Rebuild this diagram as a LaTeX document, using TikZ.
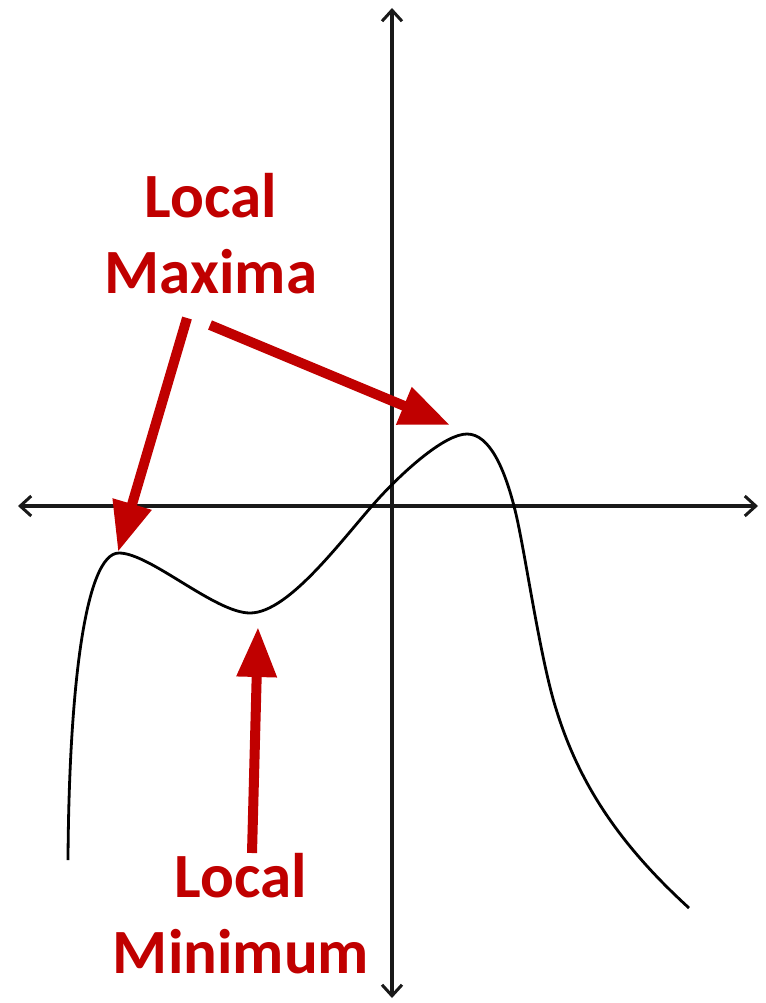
\documentclass[tikz,border=0pt]{standalone}
\usepackage{fontspec}
\setmainfont{Carlito}
\usetikzlibrary{arrows.meta}
\definecolor{lred}{HTML}{C00000}
\begin{document}
\begin{tikzpicture}[x=1pt,y=-1pt,
  axis/.style={line width=3.2pt,black!90,{Straight Barb[length=11pt,width=20pt,line width=3pt]}-{Straight Barb[length=11pt,width=20pt,line width=3pt]}},
  curve/.style={line width=2.8pt,black},
  pointer/.style={line width=10pt,lred,-{Triangle[width=38pt,length=50pt]}},
  lbl/.style={text=lred,font=\fontsize{63}{76}\selectfont\bfseries,inner sep=0pt,anchor=base}]
\useasboundingbox (0,0) rectangle (765,1003);
% axes
\coordinate (xl) at (18,506);
\coordinate (xr) at (758,506);
\coordinate (yt) at (392,8);
\coordinate (yb) at (392,998);
\draw[axis] (xl) -- (xr);
\draw[axis] (yt) -- (yb);
% curve
\draw[curve] (68,860) .. controls (69,690) and (85,553) .. (119,553)
  .. controls (150,553) and (215,613) .. (250,613)
  .. controls (290,613) and (345,535) .. (380,497)
  .. controls (405,470) and (445,434) .. (467,434)
  .. controls (490,434) and (505,470) .. (515,510)
  .. controls (525,550) and (540,660) .. (557,712)
  .. controls (580,785) and (620,845) .. (689,908);
% labels
\node[lbl] (maxlbl) at (211,217) {\begin{tabular}[t]{@{}c@{}}Local\\Maxima\end{tabular}};
\node[lbl] (minlbl) at (241,897) {\begin{tabular}[t]{@{}c@{}}Local\\Minimum\end{tabular}};
% pointer ends
\coordinate (a1s) at (187,318);
\coordinate (a1t) at (118,552);
\coordinate (a2s) at (210,325);
\coordinate (a2t) at (450,425);
\coordinate (a3s) at (252,853);
\coordinate (a3t) at (258,627);
\draw[pointer] (a1s) -- (a1t);
\draw[pointer] (a2s) -- (a2t);
\draw[pointer] (a3s) -- (a3t);
\end{tikzpicture}
\end{document}
